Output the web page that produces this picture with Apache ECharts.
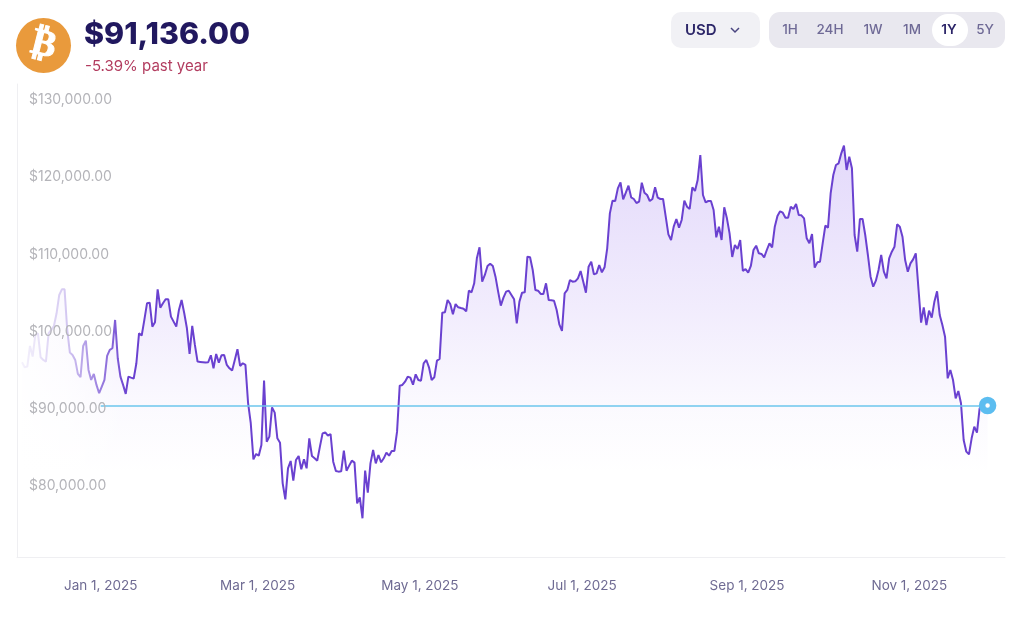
<!DOCTYPE html>
<html>
<head>
<meta charset="utf-8">
<title>Bitcoin price</title>
<script src="https://cdn.jsdelivr.net/npm/echarts@6/dist/echarts.min.js"></script>
<style>
    html, body { margin: 0; padding: 0; background: #fff; }
    #chart { width: 1024px; height: 620px; }
</style>
</head>
<body>
<div id="chart"></div>
<script>
// one sample a day, first one on Dec 2 2024
var firstSample = new Date(2024, 11, 2, 10, 0).getTime();
var dayMs = 24 * 3600 * 1000;

var prices = [
    96000, 95350, 95436, 98114, 96732, 99540, 99756, 96646, 96300, 96084, 99756, 100200,
    100706, 102348, 104724, 105458, 105458, 100188, 97250, 96948, 96300, 94486, 94054, 98114,
    98806, 95004, 93708, 94486, 93060, 91980, 92844, 93708, 96818, 97596, 97812, 101484,
    96516, 94140, 93060, 91894, 94140, 94010, 93881, 95868, 99756, 99454, 101484, 103644,
    103730, 100620, 101182, 105458, 103082, 103644, 104162, 104162, 101916, 101268, 100620, 102780,
    104076, 102348, 100404, 97078, 100706, 98244, 96084, 96041, 95998, 95955, 96000, 96905,
    95220, 97078, 95955, 96905, 96948, 95652, 95220, 94918, 96300, 97682, 95522, 95868,
    95652, 90684, 88092, 83408, 84100, 83884, 85267, 93610, 85699, 86348, 90152, 89461,
    86131, 85570, 80295, 78220, 82240, 83192, 80641, 83322, 83840, 82110, 83408, 82240,
    86131, 83840, 83538, 83235, 85051, 86780, 86910, 86477, 86693, 83105, 81895, 81809,
    81852, 84532, 81938, 82587, 83235, 82976, 77702, 78480, 75756, 81938, 79085, 82889,
    84619, 82889, 83970, 83019, 83538, 84273, 83884, 84489, 84489, 86997, 92962, 93048,
    93480, 94129, 94000, 93092, 94432, 93697, 93610, 95858, 96291, 95340, 93697, 94043,
    96204, 96420, 102429, 102473, 104072, 103553, 102213, 103553, 103121, 103034, 102948, 102602,
    105283, 105066, 106235, 109477, 110904, 106451, 107316, 108483, 108786, 108483, 107100, 105155,
    103339, 104376, 105155, 105284, 104722, 104160, 101048, 103858, 105025, 105068, 109693, 109607,
    107964, 105370, 105284, 104852, 104852, 106235, 104074, 104031, 103987, 102777, 100917, 100052,
    104938, 105370, 106667, 106451, 106494, 106883, 107834, 106451, 105025, 108397, 109045, 107402,
    107532, 108613, 107662, 108310, 110774, 115313, 116956, 116913, 118556, 119334, 117129, 117994,
    118902, 117388, 117172, 116654, 116826, 119290, 117994, 117691, 116913, 117172, 118685, 117345,
    117172, 117172, 114881, 112590, 111855, 113584, 114579, 113455, 114449, 116956, 116178, 115875,
    118685, 118210, 119637, 122879, 117691, 116740, 116913, 116913, 115746, 112201, 113584, 111855,
    116092, 114665, 112720, 109651, 111207, 110688, 111855, 107835, 108094, 107619, 108483, 110558,
    111120, 110126, 110040, 109607, 110558, 111423, 110904, 113584, 114968, 115573, 115400, 114751,
    114751, 116178, 115875, 116524, 115097, 115054, 114665, 112071, 111423, 112633, 108267, 108959,
    109045, 111423, 113714, 113455, 117907, 120285, 121582, 121798, 123095, 124089, 120933, 122663,
    121150, 112504, 110342, 114579, 114579, 112503, 109909, 107100, 105803, 106581, 107964, 109909,
    107748, 106883, 109477, 110342, 110990, 113887, 113584, 112287, 109261, 107748, 108829, 109348,
    110126, 105587, 101133, 103123, 100831, 102691, 101783, 103857, 105198, 102128, 100831, 99318,
    93915, 94996, 93698, 91320, 92272, 90672, 85917, 84402, 84058, 86133, 87646, 86868,
    90024, 90326, 90369, 90389
];

var yTicks = [80000, 90000, 100000, 110000, 120000, 130000];
var xTicks = ['2025-01-01', '2025-03-01', '2025-05-01', '2025-07-01', '2025-09-01', '2025-11-01'];

var priceText = '$91,136.00';
var changeText = '-5.39% past year';
var currencyText = 'USD';
var rangeLabels = ['1H', '24H', '1W', '1M', '1Y', '5Y'];
var rangeCenters = [790, 830, 873, 912, 949, 985];
var activeRange = '1Y';

var seriesData = prices.map(function (p, i) {
    return [firstSample + i * dayMs, p];
});
var lastPoint = seriesData[seriesData.length - 1];

function toTime(s) {
    var parts = s.split('-');
    return new Date(+parts[0], +parts[1] - 1, +parts[2]).getTime();
}

var headerGraphics = [
    { type: 'circle', shape: { cx: 43.5, cy: 45.5, r: 27.5 }, style: { fill: '#e99a3c' }, z: 20 },
    {
        type: 'text', x: 43.5, y: 45.5, rotation: -14 * Math.PI / 180, z: 21,
        style: {
            text: '\u20BF', fill: '#fff', stroke: '#fff', lineWidth: 1, align: 'center', verticalAlign: 'middle',
            font: 'bold 37px "DejaVu Sans"'
        }
    },
    {
        type: 'text', x: 84, y: 35, z: 20,
        style: {
            text: priceText, fill: '#21185f', verticalAlign: 'middle',
            font: '800 30.4px Inter'
        }
    },
    {
        type: 'text', x: 85, y: 66, z: 20,
        style: {
            text: changeText, fill: '#b23c5f', verticalAlign: 'middle',
            font: '15px Inter'
        }
    },
    {
        type: 'rect', shape: { x: 671, y: 12, width: 89, height: 36, r: 10 },
        style: { fill: '#f1f1f5' }, z: 20
    },
    {
        type: 'text', x: 685, y: 30, z: 21,
        style: {
            text: currencyText, fill: '#2d2769', verticalAlign: 'middle',
            font: '600 15px Inter'
        }
    },
    {
        type: 'polyline', shape: { points: [[731, 28], [735, 32], [739, 28]] },
        style: { stroke: '#4a4580', lineWidth: 1.5, fill: null }, z: 21
    },
    {
        type: 'rect', shape: { x: 769, y: 12, width: 236, height: 36, r: 11 },
        style: { fill: '#e9e8ef' }, z: 20
    },
    {
        type: 'rect', shape: { x: 932, y: 14, width: 36, height: 32, r: 16 },
        style: { fill: '#fff' }, z: 21
    }
];

rangeLabels.forEach(function (label, i) {
    var active = label === activeRange;
    headerGraphics.push({
        type: 'text', x: rangeCenters[i], y: 30, z: 22,
        style: {
            text: label, fill: active ? '#2a2367' : '#6f6a96',
            align: 'center', verticalAlign: 'middle',
            font: (active ? '600' : '500') + ' 13.5px Inter'
        }
    });
});

// the start of the year fades out to the left
headerGraphics.push({
    type: 'rect', shape: { x: 18, y: 84, width: 110, height: 472 }, z: 5,
    style: {
        fill: new echarts.graphic.LinearGradient(0, 0, 1, 0, [
            { offset: 0, color: 'rgba(255,255,255,0.95)' },
            { offset: 0.43, color: 'rgba(255,255,255,0.72)' },
            { offset: 0.61, color: 'rgba(255,255,255,0.5)' },
            { offset: 1, color: 'rgba(255,255,255,0)' }
        ])
    }
});

var chart = echarts.init(document.getElementById('chart'));
chart.setOption({
    animation: false,
    backgroundColor: '#fff',
    textStyle: { fontFamily: 'Inter' },
    grid: { left: 17, right: 19, top: 84, bottom: 63 },
    xAxis: {
        type: 'value',
        min: new Date(2024, 10, 30, 13, 0).getTime(),
        max: new Date(2025, 11, 6, 23, 0).getTime(),
        splitLine: { show: false },
        axisTick: { show: false },
        axisLine: { lineStyle: { color: '#efeff2' } },
        axisLabel: {
            customValues: xTicks.map(toTime),
            margin: 22,
            color: '#6f6b93',
            fontSize: 13.5,
            hideOverlap: false,
            formatter: function (value) {
                return echarts.time.format(value, '{MMM} {d}, {yyyy}', false);
            }
        }
    },
    yAxis: {
        type: 'value',
        min: 70739,
        max: 132088,
        z: 10,
        splitLine: { show: false },
        axisTick: { show: false },
        axisLine: { show: true, lineStyle: { color: '#efeff2' } },
        axisLabel: {
            inside: true,
            customValues: yTicks,
            margin: 12,
            padding: [4, 0, 0, 0],
            color: '#b4b4b9',
            fontSize: 14,
            formatter: function (value) {
                return '$' + value.toLocaleString('en-US', { minimumFractionDigits: 2 });
            }
        }
    },
    graphic: { elements: headerGraphics },
    series: [{
        type: 'line',
        data: seriesData,
        showSymbol: false,
        smooth: false,
        z: 2,
        lineStyle: { color: '#6a41d0', width: 2 },
        areaStyle: {
            color: new echarts.graphic.LinearGradient(0, 0, 0, 1, [
                { offset: 0, color: 'rgba(124,77,235,0.3)' },
                { offset: 0.4, color: 'rgba(124,77,235,0.15)' },
                { offset: 0.65, color: 'rgba(124,77,235,0.04)' },
                { offset: 0.8, color: 'rgba(124,77,235,0)' }
            ])
        },
        markLine: {
            silent: true,
            symbol: 'none',
            label: { show: false },
            lineStyle: { color: '#6cc6ec', width: 1.5, type: 'solid' },
            data: [[
                { xAxis: toTime('2025-01-01'), yAxis: lastPoint[1] },
                { xAxis: lastPoint[0], yAxis: lastPoint[1] }
            ]]
        },
        markPoint: {
            silent: true,
            symbol: 'circle',
            symbolSize: 11,
            label: { show: false },
            itemStyle: { color: '#fff', borderColor: '#5cbdf0', borderWidth: 6.5 },
            data: [{ coord: lastPoint }]
        }
    }]
});
</script>
</body>
</html>
